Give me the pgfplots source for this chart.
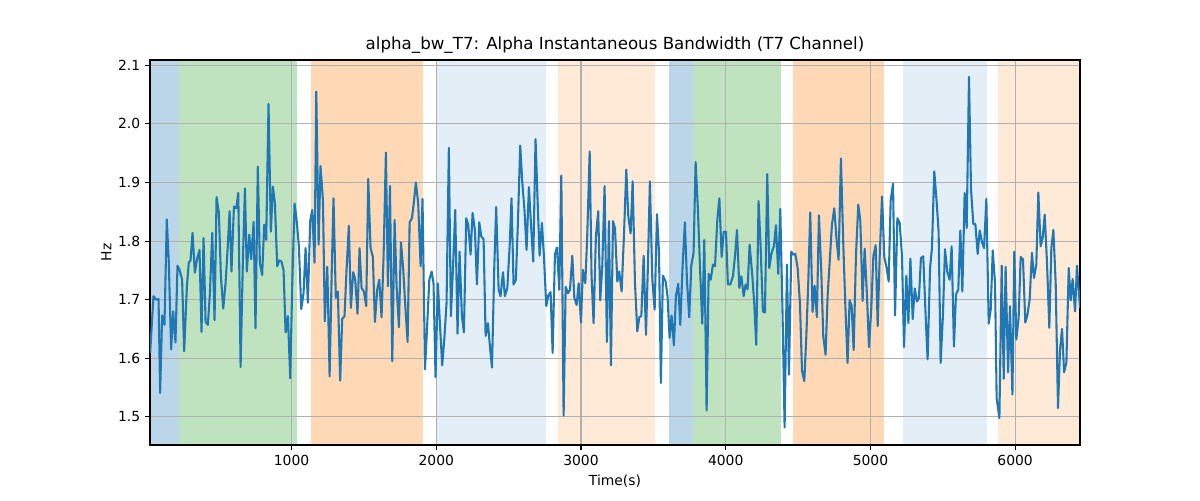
\documentclass[border=0pt]{standalone}
\usepackage{pgfplots}
\pgfplotsset{compat=1.18}
\usepackage{fontspec}
\setmainfont{DejaVu Sans}
\definecolor{tabblue}{HTML}{1F77B4}
\definecolor{taborange}{HTML}{FF7F0E}
\definecolor{tabgreen}{HTML}{2CA02C}
\definecolor{gridgray}{HTML}{B0B0B0}
\begin{document}
\begin{tikzpicture}
\begin{axis}[
  name=ax,
  set layers,
  scale only axis,
  width=669.6pt, height=277.2pt,
  xmin=22, xmax=6448, ymin=1.452, ymax=2.109,
  xtick={1000,2000,3000,4000,5000,6000},
  ytick={1.5,1.6,1.7,1.8,1.9,2.0,2.1},
  yticklabel style={/pgf/number format/.cd,fixed,fixed zerofill,precision=1},
  /pgf/number format/1000 sep={},
  /pgf/number format/assume math mode=true,
  tick align=outside,
  xtick pos=bottom, ytick pos=left,
  major tick length=3.5pt,
  tick style={line width=0.8pt, black},
  axis line style={line width=0.8pt},
  grid=major,
  major grid style={line width=0.8pt, gridgray},
  tick label style={font=\fontsize{10}{12}\selectfont},
  label style={font=\fontsize{10}{12}\selectfont},
  title style={font=\fontsize{12}{14}\selectfont, yshift=-5pt},
  title={alpha\_bw\_T7: Alpha Instantaneous Bandwidth (T7 Channel)},
  xlabel={Time(s)}, ylabel={Hz},
  xlabel style={yshift=0pt},
  ylabel style={yshift=-2pt},
  clip=true,
]
% shaded segments (kept inside the axis limits)
\addplot[on layer=axis background, draw=none, fill=tabblue, fill opacity=0.3] coordinates {(22,1.452) (219,1.452) (219,2.109) (22,2.109)} -- cycle;
\addplot[on layer=axis background, draw=none, fill=tabgreen, fill opacity=0.3] coordinates {(219,1.452) (1037,1.452) (1037,2.109) (219,2.109)} -- cycle;
\addplot[on layer=axis background, draw=none, fill=taborange, fill opacity=0.3] coordinates {(1131,1.452) (1910,1.452) (1910,2.109) (1131,2.109)} -- cycle;
\addplot[on layer=axis background, draw=none, fill=tabblue, fill opacity=0.12] coordinates {(2002,1.452) (2760,1.452) (2760,2.109) (2002,2.109)} -- cycle;
\addplot[on layer=axis background, draw=none, fill=taborange, fill opacity=0.16] coordinates {(2841,1.452) (3509,1.452) (3509,2.109) (2841,2.109)} -- cycle;
\addplot[on layer=axis background, draw=none, fill=tabblue, fill opacity=0.3] coordinates {(3605,1.452) (3776,1.452) (3776,2.109) (3605,2.109)} -- cycle;
\addplot[on layer=axis background, draw=none, fill=tabgreen, fill opacity=0.3] coordinates {(3776,1.452) (4384,1.452) (4384,2.109) (3776,2.109)} -- cycle;
\addplot[on layer=axis background, draw=none, fill=taborange, fill opacity=0.3] coordinates {(4465,1.452) (5094,1.452) (5094,2.109) (4465,2.109)} -- cycle;
\addplot[on layer=axis background, draw=none, fill=tabblue, fill opacity=0.12] coordinates {(5222,1.452) (5805,1.452) (5805,2.109) (5222,2.109)} -- cycle;
\addplot[on layer=axis background, draw=none, fill=taborange, fill opacity=0.16] coordinates {(5879,1.452) (6448,1.452) (6448,2.109) (5879,2.109)} -- cycle;
% signal
\addplot[tabblue, line width=1.5pt, line join=round, mark=none] coordinates {
(23,1.609)(46,1.706)(65,1.700)(81,1.701)(92,1.541)(106,1.673)(122,1.657)(138,1.837)(152,1.763)(168,1.615)(182,1.680)(198,1.627)(212,1.758)(226,1.751)(244,1.734)(258,1.612)(277,1.723)(290,1.763)(302,1.767)(316,1.814)(332,1.746)(346,1.768)(364,1.785)(378,1.645)(392,1.805)(406,1.662)(422,1.657)(436,1.711)(452,1.814)(468,1.665)(482,1.875)(498,1.848)(512,1.740)(528,1.685)(544,1.728)(558,1.785)(572,1.851)(585,1.748)(602,1.859)(618,1.856)(632,1.882)(648,1.585)(664,1.768)(678,1.890)(691,1.748)(708,1.811)(721,1.769)(738,1.833)(751,1.651)(767,1.927)(781,1.763)(797,1.742)(811,1.828)(825,1.802)(841,2.034)(857,1.816)(871,1.893)(885,1.865)(901,1.757)(915,1.767)(931,1.765)(945,1.750)(959,1.644)(975,1.672)(991,1.566)(1005,1.728)(1021,1.864)(1035,1.836)
(1051,1.790)(1067,1.684)(1083,1.711)(1097,1.788)(1113,1.695)(1129,1.834)(1143,1.853)(1159,1.763)(1171,2.055)(1187,1.794)(1200,1.928)(1217,1.870)(1230,1.663)(1247,1.756)(1263,1.569)(1277,1.740)(1290,1.873)(1306,1.703)(1320,1.714)(1336,1.562)(1350,1.667)(1366,1.672)(1380,1.751)(1396,1.826)(1410,1.686)(1426,1.747)(1440,1.734)(1456,1.676)(1470,1.788)(1484,1.720)(1500,1.714)(1516,1.689)(1530,1.906)(1546,1.788)(1562,1.773)(1576,1.662)(1592,1.717)(1606,1.734)(1622,1.670)(1636,1.774)(1652,1.951)(1666,1.723)(1680,1.894)(1696,1.595)(1712,1.836)(1726,1.723)(1742,1.653)(1756,1.798)(1772,1.751)(1786,1.689)(1802,1.628)(1816,1.832)(1832,1.839)(1846,1.868)(1859,1.900)(1875,1.865)(1892,1.757)(1905,1.872)(1922,1.581)(1938,1.660)(1952,1.734)(1968,1.748)(1981,1.728)(1995,1.568)(2011,1.728)(2025,1.660)(2041,1.588)(2057,1.638)(2071,1.694)(2087,1.959)
(2101,1.672)(2117,1.763)(2131,1.853)(2147,1.642)(2161,1.782)(2177,1.672)(2191,1.644)(2207,1.839)(2221,1.828)(2237,1.777)(2251,1.848)(2267,1.819)(2281,1.726)(2297,1.832)(2311,1.808)(2327,1.803)(2341,1.638)(2357,1.660)(2371,1.620)(2385,1.584)(2401,1.757)(2414,1.858)(2431,1.717)(2444,1.706)(2461,1.747)(2474,1.706)(2491,1.720)(2507,1.791)(2520,1.873)(2534,1.726)(2550,1.734)(2564,1.831)(2580,1.963)(2594,1.902)(2610,1.851)(2624,1.785)(2640,1.892)(2654,1.831)(2670,1.765)(2686,1.974)(2700,1.870)(2714,1.775)(2730,1.831)(2744,1.774)(2760,1.689)(2774,1.707)(2790,1.713)(2804,1.609)(2820,1.777)(2834,1.789)(2850,1.717)(2864,1.912)(2880,1.502)(2894,1.722)(2910,1.711)(2924,1.717)(2940,1.775)(2954,1.703)(2970,1.691)(2984,1.728)(3000,1.661)(3013,1.751)(3030,1.728)(3043,1.808)(3060,1.953)(3073,1.740)(3087,1.660)(3103,1.808)(3119,1.851)
(3133,1.699)(3147,1.757)(3163,1.894)(3179,1.628)(3193,1.834)(3207,1.588)(3221,1.834)(3235,1.822)(3251,1.731)(3264,1.748)(3281,1.714)(3297,1.811)(3313,1.922)(3327,1.842)(3343,1.813)(3357,1.902)(3373,1.728)(3389,1.646)(3403,1.670)(3417,1.672)(3433,1.775)(3449,1.640)(3463,1.763)(3476,1.902)(3493,1.734)(3509,1.683)(3525,1.846)(3539,1.780)(3552,1.558)(3566,1.741)(3585,1.731)(3598,1.706)(3612,1.635)(3626,1.673)(3642,1.622)(3656,1.707)(3672,1.727)(3686,1.657)(3702,1.757)(3718,1.832)(3732,1.734)(3748,1.670)(3762,1.758)(3778,1.780)(3792,1.935)(3808,1.853)(3822,1.757)(3838,1.659)(3852,1.802)(3868,1.511)(3882,1.744)(3896,1.734)(3912,1.760)(3926,1.757)(3942,1.836)(3956,1.873)(3972,1.773)(3986,1.816)(4002,1.816)(4015,1.726)(4032,1.726)(4050,1.740)(4064,1.774)(4078,1.819)(4094,1.720)(4108,1.740)(4124,1.706)(4138,1.726)(4151,1.718)(4165,1.794)
(4184,1.740)(4197,1.694)(4211,1.623)(4227,1.868)(4241,1.791)(4257,1.680)(4271,1.678)(4287,1.914)(4301,1.754)(4317,1.780)(4333,1.791)(4347,1.827)(4363,1.744)(4377,1.855)(4393,1.672)(4407,1.482)(4423,1.760)(4437,1.572)(4453,1.782)(4467,1.777)(4481,1.778)(4497,1.754)(4513,1.694)(4527,1.579)(4543,1.561)(4557,1.638)(4571,1.734)(4584,1.849)(4600,1.679)(4614,1.724)(4630,1.670)(4644,1.844)(4660,1.751)(4674,1.638)(4690,1.606)(4704,1.706)(4720,1.771)(4734,1.828)(4750,1.856)(4766,1.802)(4780,1.768)(4796,1.941)(4812,1.798)(4826,1.694)(4842,1.592)(4856,1.699)(4870,1.689)(4884,1.614)(4900,1.776)(4916,1.862)(4930,1.835)(4946,1.698)(4960,1.787)(4976,1.707)(4990,1.619)(5006,1.686)(5020,1.774)(5036,1.793)(5050,1.655)(5064,1.774)(5080,1.876)(5096,1.772)(5110,1.757)(5126,1.731)(5140,1.870)(5156,1.898)(5170,1.673)(5186,1.839)(5202,1.831)
(5218,1.774)(5232,1.619)(5248,1.741)(5262,1.660)(5276,1.770)(5292,1.667)(5306,1.719)(5322,1.697)(5335,1.703)(5349,1.771)(5365,1.774)(5382,1.669)(5395,1.598)(5412,1.754)(5425,1.788)(5441,1.919)(5458,1.865)(5471,1.816)(5485,1.592)(5501,1.674)(5515,1.786)(5531,1.748)(5547,1.734)(5561,1.791)(5577,1.620)(5591,1.709)(5607,1.717)(5621,1.818)(5635,1.714)(5651,1.882)(5665,1.822)(5681,2.080)(5695,1.888)(5711,1.829)(5725,1.829)(5741,1.778)(5755,1.818)(5771,1.798)(5785,1.788)(5801,1.872)(5817,1.659)(5831,1.683)(5845,1.784)(5861,1.728)(5872,1.532)(5891,1.498)(5907,1.758)(5921,1.565)(5934,1.756)(5951,1.576)(5964,1.689)(5981,1.538)(5994,1.782)(6008,1.632)(6024,1.669)(6038,1.773)(6054,1.769)(6070,1.661)(6084,1.673)(6100,1.700)(6116,1.780)(6130,1.737)(6146,1.760)(6160,1.883)(6176,1.791)(6190,1.805)(6204,1.845)(6220,1.763)(6236,1.652)(6250,1.788)(6264,1.819)(6280,1.728)(6296,1.515)(6310,1.615)(6324,1.650)(6338,1.576)(6354,1.593)(6370,1.754)(6384,1.699)(6397,1.735)(6414,1.680)(6427,1.758)(6448,1.686)
};
\end{axis}
\pgfresetboundingbox
\path[use as bounding box] ([xshift=-108pt,yshift=-39.6pt]ax.south west) rectangle ([xshift=86.4pt,yshift=43.2pt]ax.north east);
\end{tikzpicture}
\end{document}
